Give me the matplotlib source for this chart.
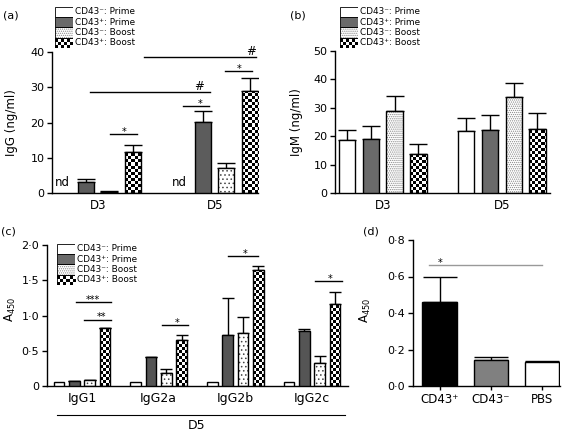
import numpy as np
import matplotlib.pyplot as plt
from matplotlib.patches import Rectangle

plt.rcParams['font.family'] = ['DejaVu Sans']
plt.rcParams['mathtext.fontset'] = 'dejavusans'
plt.rcParams['hatch.linewidth'] = 0.6

# ---- data ----
series = ['CD43⁻: Prime', 'CD43⁺: Prime', 'CD43⁻: Boost', 'CD43⁺: Boost']
days = ['D3', 'D5']

# rows = series, cols = days ; nan = not detected
igg_mean = [[np.nan, np.nan], [3.0, 20.1], [0.4, 7.0], [11.7, 29.0]]
igg_err = [[0, 0], [0.9, 3.1], [0.15, 1.5], [1.9, 3.6]]

igm_mean = [[18.7, 21.7], [18.9, 22.3], [28.9, 33.8], [13.6, 22.7]]
igm_err = [[3.6, 4.7], [4.8, 5.3], [5.4, 4.9], [3.8, 5.5]]

subclasses = ['IgG1', 'IgG2a', 'IgG2b', 'IgG2c']
a450_mean = [[0.052, 0.052, 0.052, 0.052],
             [0.066, 0.406, 0.726, 0.783],
             [0.08, 0.19, 0.745, 0.325],
             [0.816, 0.65, 1.64, 1.17]]
a450_err = [[0, 0, 0, 0],
            [0.005, 0.01, 0.52, 0.027],
            [0.01, 0.046, 0.24, 0.10],
            [0.01, 0.067, 0.06, 0.165]]

d_groups = ['CD43⁺', 'CD43⁻', 'PBS']
d_mean = [0.462, 0.142, 0.129]
d_err = [0.133, 0.015, 0.008]

W, H = 570, 433
fig = plt.figure(figsize=(W / 100, H / 100), dpi=100)


def box(l, t, r, b):
    return [l / W, 1 - b / H, (r - l) / W, (b - t) / H]


def checker(ax, rect, cell=3):
    tr = ax.transData
    x0, y0 = rect.get_x(), rect.get_y()
    w, h = rect.get_width(), rect.get_height()
    (px0, py0), (px1, py1) = tr.transform([(x0, y0), (x0 + w, y0 + h)])
    nx = max(1, int(np.ceil((px1 - px0) / cell)))
    ny = max(1, int(np.ceil((py1 - py0) / cell)))
    ex, ey = tr.inverted().transform((px0 + nx * cell, py0 + ny * cell))
    board = np.indices((ny, nx)).sum(axis=0) % 2
    im = ax.imshow(board, cmap='gray', vmin=0, vmax=1, origin='lower',
                   extent=(x0, ex, y0, ey), aspect='auto',
                   interpolation='nearest', zorder=2.5)
    im.set_clip_path(rect)


offsets = [-0.3, -0.1, 0.1, 0.3]


def grouped(ax, means, errs, gray, dots, dotcolor, capsize, xlim, ylim):
    ax.set_xlim(*xlim)
    ax.set_ylim(*ylim)
    x = np.arange(len(means[0]))
    for k in range(4):
        xs = x + offsets[k]
        m = np.array(means[k], dtype=float)
        e = np.array(errs[k], dtype=float)
        ok = ~np.isnan(m)
        xs, m, e = xs[ok], m[ok], e[ok]
        if len(m) == 0:
            continue
        if k == 2:
            ax.bar(xs, m, 0.137, color='white', edgecolor=dotcolor, hatch=dots,
                   linewidth=0, zorder=2)
        face = ['white', gray, 'none', 'none'][k]
        bars = ax.bar(xs, m, 0.137, facecolor=face, edgecolor='black',
                      linewidth=1.0, zorder=3)
        if k == 3:
            for r in bars:
                checker(ax, r)
        show = e > 0
        ax.errorbar(xs[show], m[show], yerr=[np.zeros(show.sum()), e[show]],
                    fmt='none', ecolor='black', elinewidth=1.0, capsize=capsize,
                    capthick=1.0, zorder=1)
    ax.set_xlim(*xlim)
    ax.set_ylim(*ylim)


def style(ax, yticks, ylabels, ylabel, lx, ly, xsize=8.5):
    for s in ['top', 'right']:
        ax.spines[s].set_visible(False)
    for s in ['left', 'bottom']:
        ax.spines[s].set_linewidth(1.0)
    ax.set_yticks(yticks)
    ax.set_yticklabels(ylabels)
    ax.tick_params(axis='y', direction='out', length=3.5, width=1.0, labelsize=8, pad=2)
    ax.tick_params(axis='x', length=0, labelsize=xsize, pad=4)
    ax.set_ylabel(ylabel, fontsize=8.5)
    ax.yaxis.set_label_coords(lx, ly)


def legend(left, top, gray, dots, dotcolor):
    lg = fig.add_axes(box(left, top, left + 18, top + 41.5))
    lg.set_xlim(0, 1)
    lg.set_ylim(0, 4)
    lg.axis('off')
    for k in range(4):
        y0 = 3 - k
        if k == 2:
            lg.add_patch(Rectangle((0, y0), 1, 1, facecolor='white', edgecolor=dotcolor,
                                   hatch=dots, linewidth=0, zorder=2))
        face = ['white', gray, 'none', 'none'][k]
        r = Rectangle((0, y0), 1, 1, facecolor=face, edgecolor='black',
                      linewidth=0.6, zorder=3)
        lg.add_patch(r)
        if k == 3:
            checker(lg, r)
        lg.text(1.12, y0 + 0.5, series[k], fontsize=6.4, va='center', ha='left',
                clip_on=False)
    lg.set_xlim(0, 1)
    lg.set_ylim(0, 4)


def sig(ax, x0, x1, y, label, tx, color='black', size=7, dy=-0.5):
    ax.plot([x0, x1], [y, y], color=color, lw=1.0, clip_on=False, zorder=4)
    ax.annotate(label, (tx, y), xytext=(0, dy), textcoords='offset points',
                ha='center', va='baseline', fontsize=size, annotation_clip=False)


# ---- (a) IgG ----
ax_a = fig.add_axes(box(52, 52, 258, 193))
grouped(ax_a, igg_mean, igg_err, '#5c5c5c', '....', '#444444', 6.5, (-0.39, 1.37), (0, 40))
style(ax_a, [0, 10, 20, 30, 40], ['0', '10', '20', '30', '40'], 'IgG (ng/ml)', -0.165, 0.5)
ax_a.set_xticks([0, 1])
ax_a.set_xticklabels(days)
for g in range(2):
    ax_a.text(g + offsets[0], 1.0, 'nd', ha='center', va='bottom', fontsize=8.5)
sig(ax_a, 0.106, 0.34, 16.6, '*', 0.227)
sig(ax_a, 0.727, 0.953, 24.6, '*', 0.877)
sig(ax_a, 1.086, 1.32, 34.5, '*', 1.21)
sig(ax_a, -0.064, 0.962, 28.6, '#', 0.87, size=8.5, dy=1.5)
sig(ax_a, 0.396, 1.357, 38.5, '#', 1.31, size=8.5, dy=1.5)
fig.text(3 / W, 1 - 16 / H, '(a)', fontsize=8, va='center')
legend(55, 6.5, '#6a6a6a', '........', '#888888')

# ---- (b) IgM ----
ax_b = fig.add_axes(box(335, 51, 550, 193))
grouped(ax_b, igm_mean, igm_err, '#6a6a6a', '........', '#888888', 6.7, (-0.40, 1.405), (0, 50))
style(ax_b, [0, 10, 20, 30, 40, 50], ['0', '10', '20', '30', '40', '50'], 'IgM (ng/ml)', -0.149, 0.5)
ax_b.set_xticks([0, 1])
ax_b.set_xticklabels(days)
fig.text(290 / W, 1 - 16 / H, '(b)', fontsize=8, va='center')
legend(340, 6.5, '#6a6a6a', '........', '#888888')

# ---- (c) IgG subclasses ----
ax_c = fig.add_axes(box(47, 245, 348, 386))
grouped(ax_c, a450_mean, a450_err, '#555555', '....', '#444444', 4.5, (-0.456, 3.47), (0, 2))
style(ax_c, [0, 0.5, 1.0, 1.5, 2.0], ['0', '0·5', '1·0', '1·5', '2·0'], 'A$_{450}$',
      -0.096, 0.54, xsize=9)
ax_c.set_xticks(range(4))
ax_c.set_xticklabels(subclasses)
xa = ax_c.get_xaxis_transform()
ax_c.plot([-0.32, 3.43], [-0.206, -0.206], color='black', lw=0.8, transform=xa, clip_on=False)
ax_c.text(1.5, -0.28, 'D5', transform=xa, ha='center', va='center', fontsize=9)
sig(ax_c, -0.078, 0.378, 1.193, '***', 0.14)
sig(ax_c, 0.03, 0.378, 0.943, '**', 0.26)
sig(ax_c, 1.043, 1.382, 0.863, '*', 1.24)
sig(ax_c, 1.90, 2.29, 1.84, '*', 2.13)
sig(ax_c, 3.04, 3.39, 1.486, '*', 3.24)
fig.text(1 / W, 1 - 231 / H, '(c)', fontsize=8, va='center')
legend(56.5, 243.5, '#6a6a6a', '........', '#888888')

# ---- (d) ----
ax_d = fig.add_axes(box(413, 240, 560, 386))
ax_d.bar(range(3), d_mean, 0.67, color=['black', '#808080', 'white'], edgecolor='black',
         linewidth=1.0, zorder=3)
ax_d.errorbar(range(3), d_mean, yerr=[np.zeros(3), d_err], fmt='none', ecolor='black',
              elinewidth=1.0, capsize=12, capthick=1.0, zorder=1)
ax_d.set_xlim(-0.52, 2.35)
ax_d.set_ylim(0, 0.8)
style(ax_d, [0, 0.2, 0.4, 0.6, 0.8], ['0·0', '0·2', '0·4', '0·6', '0·8'], 'A$_{450}$',
      -0.272, 0.52, xsize=8.5)
ax_d.set_xticks(range(3))
ax_d.set_xticklabels(d_groups)
ax_d.tick_params(axis='x', direction='out', length=3, width=1.0, pad=2)
sig(ax_d, -0.21, 2.0, 0.664, '*', 0.0, color='#999999')
fig.text(363 / W, 1 - 231 / H, '(d)', fontsize=8, va='center')

fig.savefig('out.png', dpi=100)
